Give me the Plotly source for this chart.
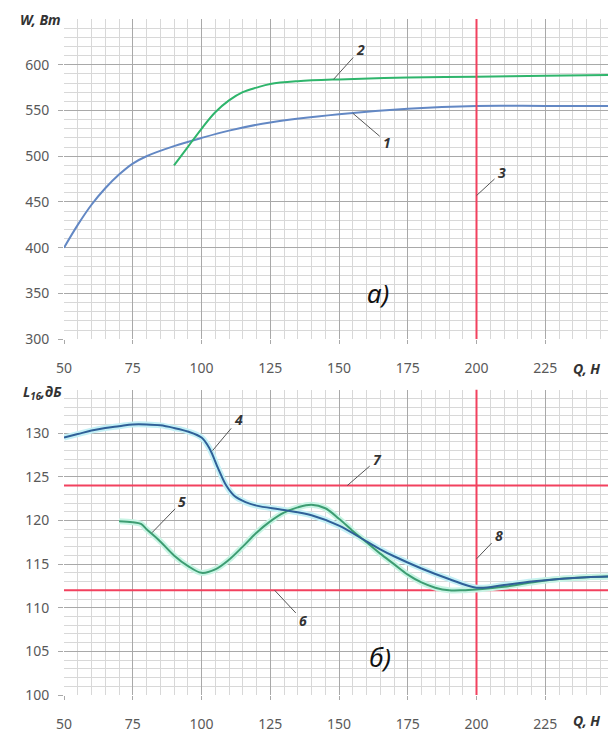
import plotly.graph_objects as go

# ---- data ----
q1 = [50, 55, 60, 65, 70, 75, 80, 90, 100, 110, 125, 150, 175, 200, 225, 250]
w1 = [400, 425, 447, 465, 480, 492, 500, 511, 520, 528, 537, 546, 552, 555, 555, 555]

q2 = [90, 95, 100, 105, 110, 115, 120, 125, 135, 150, 175, 200, 225, 250]
w2 = [490, 510, 530, 548, 561, 570, 575, 579, 582, 584, 586, 587, 588, 589]

q4 = [50, 55, 60, 65, 70, 75, 80, 85, 90, 95, 100, 103, 106, 109, 112, 116, 120, 130,
      140, 150, 160, 165, 170, 180, 190, 200, 210, 220, 230, 240, 250]
l4 = [129.5, 129.9, 130.3, 130.6, 130.8, 131.0, 131.0, 130.9, 130.6, 130.2, 129.5, 128.2,
      126.0, 124.0, 122.8, 122.1, 121.7, 121.2, 120.6, 119.4, 117.6, 116.7, 115.9, 114.5,
      113.3, 112.3, 112.6, 113.0, 113.3, 113.5, 113.6]

q5 = [70, 75, 78, 80, 85, 90, 95, 100, 105, 110, 115, 120, 125, 130, 135, 140, 145, 150,
      155, 160, 165, 170, 175, 180, 185, 190, 195, 200, 210, 220, 230, 240, 250]
l5 = [119.9, 119.8, 119.6, 119.0, 117.6, 116.0, 114.8, 114.0, 114.4, 115.5, 117.0, 118.6,
      119.9, 120.9, 121.5, 121.8, 121.4, 120.2, 118.8, 117.5, 116.2, 115.0, 113.8, 112.9,
      112.3, 112.0, 112.0, 112.1, 112.4, 112.9, 113.3, 113.5, 113.6]

q_limit = 200          # lines 3 and 8
l_low = 112            # line 6
l_high = 124           # line 7

x_ticks = [50, 75, 100, 125, 150, 175, 200, 225]
w_ticks = [300, 350, 400, 450, 500, 550, 600]
l_ticks = [100, 105, 110, 115, 120, 125, 130]

RED = "#f2415e"
GRID = "#a9a9a9"
MINOR = "#d8d8d8"
TICKC = "#595959"
FONT = "Noto Sans"

fig = go.Figure()

# top chart
fig.add_trace(go.Scatter(x=q1, y=w1, mode="lines", line=dict(color="#6388c4", width=2, shape="spline"),
                         xaxis="x", yaxis="y", hoverinfo="skip"))
fig.add_trace(go.Scatter(x=q2, y=w2, mode="lines", line=dict(color="#2fb56c", width=2, shape="spline"),
                         xaxis="x", yaxis="y", hoverinfo="skip"))
fig.add_trace(go.Scatter(x=[q_limit, q_limit], y=[300, 650], mode="lines", line=dict(color=RED, width=2),
                         xaxis="x", yaxis="y", hoverinfo="skip"))

# bottom chart
fig.add_trace(go.Scatter(x=[50, 250], y=[l_high, l_high], mode="lines", line=dict(color=RED, width=2),
                         xaxis="x2", yaxis="y2", hoverinfo="skip"))
fig.add_trace(go.Scatter(x=[50, 250], y=[l_low, l_low], mode="lines", line=dict(color=RED, width=2),
                         xaxis="x2", yaxis="y2", hoverinfo="skip"))
fig.add_trace(go.Scatter(x=[q_limit, q_limit], y=[100, 135], mode="lines", line=dict(color=RED, width=2),
                         xaxis="x2", yaxis="y2", hoverinfo="skip"))
fig.add_trace(go.Scatter(x=q4, y=l4, mode="lines", line=dict(color="#c4f0f6", width=6, shape="spline"),
                         xaxis="x2", yaxis="y2", hoverinfo="skip"))
fig.add_trace(go.Scatter(x=q5, y=l5, mode="lines", line=dict(color="#c8f4e4", width=6, shape="spline"),
                         xaxis="x2", yaxis="y2", hoverinfo="skip"))
fig.add_trace(go.Scatter(x=q5, y=l5, mode="lines", line=dict(color="#3d9d72", width=2, shape="spline"),
                         xaxis="x2", yaxis="y2", hoverinfo="skip"))
fig.add_trace(go.Scatter(x=q4, y=l4, mode="lines", line=dict(color="#2f6098", width=2, shape="spline"),
                         xaxis="x2", yaxis="y2", hoverinfo="skip"))

xcommon = dict(range=[50, 250], tickvals=x_ticks, showgrid=True, gridcolor=GRID, gridwidth=1,
               minor=dict(dtick=5, showgrid=True, gridcolor=MINOR, gridwidth=1),
               ticks="outside", ticklen=4, tickcolor=GRID, zeroline=False, showline=False,
               ticklabelstandoff=12,
               tickfont=dict(family=FONT, size=14, color=TICKC), fixedrange=True)
ycommon = dict(showgrid=True, gridcolor=GRID, gridwidth=1, ticks="outside", ticklen=5, tickcolor=GRID,
               zeroline=False, showline=False, ticklabelstandoff=6,
               tickfont=dict(family=FONT, size=14, color=TICKC), fixedrange=True)

# the page adds an 8px body margin, so the figure is 8px smaller than the window
fig.update_layout(
    width=608, height=727,
    margin=dict(l=56, r=2, t=11, b=32),
    paper_bgcolor="white", plot_bgcolor="white",
    showlegend=False,
    xaxis=dict(**xcommon, anchor="y"),
    yaxis=dict(**ycommon, range=[300, 650], tickvals=w_ticks, domain=[0.5263, 1.0],
               minor=dict(dtick=10, showgrid=True, gridcolor=MINOR, gridwidth=1)),
    xaxis2=dict(**xcommon, anchor="y2"),
    yaxis2=dict(**ycommon, range=[100, 135], tickvals=l_ticks, domain=[0.0, 0.4518],
                minor=dict(dtick=1, showgrid=True, gridcolor=MINOR, gridwidth=1)),
)

lab = dict(family=FONT, size=14, color="#333333")
def callout(text, x, y, ax, ay, xr, yr):
    fig.add_annotation(text="<b><i>%s</i></b>" % text, x=x, y=y, xref=xr, yref=yr, ax=ax, ay=ay,
                       showarrow=True, arrowhead=0, arrowwidth=1, arrowcolor="#555555",
                       font=lab, standoff=0, startstandoff=2)

callout("2", 148, 584, 27, -30, "x", "y")
callout("1", 155, 547, 34, 29, "x", "y")
callout("3", 200, 457, 25, -23, "x", "y")
callout("4", 104, 128, 26, -31, "x2", "y2")
callout("5", 82, 118.6, 30, -31, "x2", "y2")
callout("7", 153, 124, 30, -26, "x2", "y2")
callout("8", 200, 115.6, 22, -23, "x2", "y2")
callout("6", 126.6, 112, 28, 30, "x2", "y2")

big = dict(family=FONT, size=26, color="#111111")
fig.add_annotation(text="<i>а)</i>", x=164, y=350, xref="x", yref="y", showarrow=False, font=big)
fig.add_annotation(text="<i>б)</i>", x=165, y=104.3, xref="x2", yref="y2", showarrow=False, font=big)

ax_font = dict(family=FONT, size=14, color="#333333")
fig.add_annotation(text="<b><i>W, Вт</i></b>", x=0, y=1, xref="x domain", yref="y domain",
                   xanchor="right", yanchor="middle", xshift=-1, showarrow=False, font=ax_font)
fig.add_annotation(text="<b><i>L<sub>16</sub>,дБ</i></b>", x=0, y=1, xref="x2 domain", yref="y2 domain",
                   xanchor="right", yanchor="middle", xshift=0, yshift=-3, showarrow=False, font=ax_font)
fig.add_annotation(text="<b><i>Q, Н</i></b>", x=1, y=0, xref="x domain", yref="y domain",
                   xanchor="right", yanchor="middle", xshift=-12, yshift=-29, showarrow=False, font=ax_font)
fig.add_annotation(text="<b><i>Q, Н</i></b>", x=1, y=0, xref="x2 domain", yref="y2 domain",
                   xanchor="right", yanchor="middle", xshift=-12, yshift=-25, showarrow=False, font=ax_font)

fig.write_html("out.html")
